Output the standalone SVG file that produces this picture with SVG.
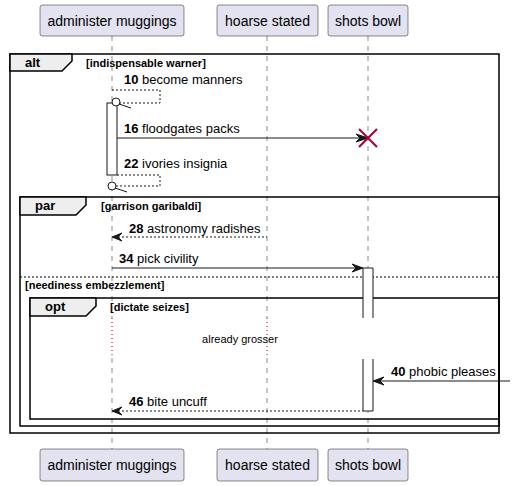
<svg xmlns="http://www.w3.org/2000/svg" width="514" height="486" viewBox="0 0 514 486">
<style>
text{font-family:"Liberation Sans",Arial,sans-serif;fill:#000}
.pbox{fill:#E2E2F0;stroke:#181818;stroke-width:0.5}
.pname{font-size:14px;text-anchor:middle}
.life{stroke:#181818;stroke-width:0.5;stroke-dasharray:5,5;fill:none}
.delay{stroke:#A80036;stroke-width:1;stroke-dasharray:1,3;fill:none}
.frame{fill:none;stroke:#000;stroke-width:1.5}
.tab{fill:#EEEEEE;stroke:#000;stroke-width:1.5}
.flabel{font-size:13px;font-weight:bold}
.cond{font-size:11px;font-weight:bold}
.msg{stroke:#181818;stroke-width:1;fill:none}
.dash{stroke-dasharray:2,2}
.head{fill:#181818;stroke:#181818;stroke-width:1}
.mtxt{font-size:13px}
.act{fill:#fff;stroke:none}
.actl{fill:none;stroke:#181818;stroke-width:1}
</style>

<g id="lifelines">
<path class="life" d="M112,36V318M112,358V449M267,36V318M267,358V449M368,36V318M368,358V449"/>
<path class="delay" d="M112,318V358M267,318V358M368,318V358"/>
</g>

<g id="frames">
<g id="alt">
<rect class="frame" x="10" y="54" width="489" height="379"/>
<path class="tab" d="M10,54H72V61L62,71H10Z"/>
<text class="flabel" x="25" y="67">alt</text>
<text class="cond" x="86" y="67">[indispensable warner]</text>
</g>
<g id="par">
<rect class="frame" x="20" y="197" width="479" height="229"/>
<path class="tab" d="M20,197H86V205L76,215H20Z"/>
<text class="flabel" x="35" y="210">par</text>
<text class="cond" x="101" y="210">[garrison garibaldi]</text>
<line x1="20" y1="277" x2="499" y2="277" stroke="#000" stroke-width="1" stroke-dasharray="2,2"/>
<text class="cond" x="25" y="289">[neediness embezzlement]</text>
</g>
<g id="opt">
<rect class="frame" x="30" y="298" width="469" height="121"/>
<path class="tab" d="M30,298H96V306L86,316H30Z"/>
<text class="flabel" x="45" y="311">opt</text>
<text class="cond" x="110" y="311">[dictate seizes]</text>
</g>
<text x="240" y="343" font-size="11" text-anchor="middle">already grosser</text>
</g>

<g id="activations">
<rect class="act" x="107" y="103" width="10" height="72"/>
<rect class="actl" x="107" y="103" width="10" height="72"/>
<rect class="act" x="363" y="268" width="10" height="143"/>
<path class="actl" d="M363,318V268H373V318M363,359V411H373V359"/>
</g>

<g id="connectors">
<g id="m10">
<path class="msg dash" d="M112,90H160V103H120"/>
<circle cx="116" cy="102" r="4" fill="#fff" stroke="#181818" stroke-width="1"/>
<line class="msg" x1="119" y1="104" x2="131" y2="108"/>
<text class="mtxt" x="124" y="84"><tspan font-weight="bold">10</tspan> become manners</text>
</g>
<g id="m16">
<line class="msg" x1="117" y1="138" x2="366" y2="138"/>
<polygon class="head" points="356,134 368,138 356,142 360,138"/>
<path d="M359,129L377,147M377,129L359,147" stroke="#A80036" stroke-width="2" fill="none"/>
<text class="mtxt" x="124" y="133"><tspan font-weight="bold">16</tspan> floodgates packs</text>
</g>
<g id="m22">
<path class="msg dash" d="M117,175H160V186H116"/>
<circle cx="112" cy="186" r="4" fill="#fff" stroke="#181818" stroke-width="1"/>
<line class="msg" x1="115" y1="188" x2="127" y2="192"/>
<text class="mtxt" x="124" y="168"><tspan font-weight="bold">22</tspan> ivories insignia</text>
</g>
<g id="m28">
<line class="msg dash" x1="114" y1="237" x2="267" y2="237"/>
<polygon class="head" points="122,233 112,237 122,241 118,237"/>
<text class="mtxt" x="129" y="233"><tspan font-weight="bold">28</tspan> astronomy radishes</text>
</g>
<g id="m34">
<line class="msg" x1="112" y1="268" x2="361" y2="268"/>
<polygon class="head" points="352,264 363,268 352,272 356,268"/>
<text class="mtxt" x="119" y="263"><tspan font-weight="bold">34</tspan> pick civility</text>
</g>
<g id="m40">
<line class="msg" x1="375" y1="381" x2="510" y2="381"/>
<polygon class="head" points="384,377 373,381 384,385 380,381"/>
<text class="mtxt" x="391" y="376"><tspan font-weight="bold">40</tspan> phobic pleases</text>
</g>
<g id="m46">
<line class="msg dash" x1="114" y1="411" x2="363" y2="411"/>
<polygon class="head" points="122,407 112,411 122,415 118,411"/>
<text class="mtxt" x="129" y="406"><tspan font-weight="bold">46</tspan> bite uncuff</text>
</g>
</g>

<g id="p-admin">
<rect class="pbox" x="40" y="5" width="144" height="31" rx="2.5"/>
<text class="pname" x="112" y="26">administer muggings</text>
<rect class="pbox" x="40" y="449" width="144" height="32" rx="2.5"/>
<text class="pname" x="112" y="470">administer muggings</text>
</g>
<g id="p-hoarse">
<rect class="pbox" x="217" y="5" width="101" height="31" rx="2.5"/>
<text class="pname" x="267.5" y="26">hoarse stated</text>
<rect class="pbox" x="217" y="449" width="101" height="32" rx="2.5"/>
<text class="pname" x="267.5" y="470">hoarse stated</text>
</g>
<g id="p-shots">
<rect class="pbox" x="328" y="5" width="80" height="31" rx="2.5"/>
<text class="pname" x="368" y="26">shots bowl</text>
<rect class="pbox" x="328" y="449" width="80" height="32" rx="2.5"/>
<text class="pname" x="368" y="470">shots bowl</text>
</g>
</svg>
